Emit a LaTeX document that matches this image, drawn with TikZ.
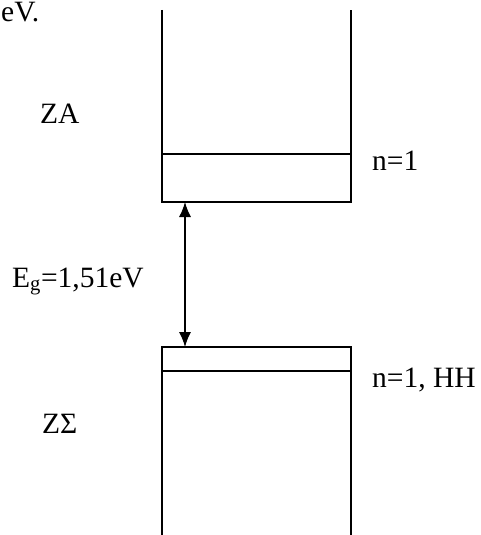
\documentclass[tikz,border=0pt]{standalone}
\usepackage{fontspec}
\setmainfont{Liberation Serif}
\usetikzlibrary{arrows.meta}

\begin{document}
\begin{tikzpicture}[x=1pt,y=-1pt,
		wall/.style={draw,line width=1.3pt},
		lvl/.style={draw,line width=1.1pt},
		lbl/.style={font=\fontsize{29.5}{34}\selectfont,inner sep=0pt,anchor=base west},
		ar/.style={{Latex[length=15pt,width=12pt]}-{Latex[length=15pt,width=12pt]},line width=1.2pt}]
		\useasboundingbox (0,0) rectangle (481,535);
		\clip (0,0) rectangle (481,535);
		% conduction band well
		\coordinate (caTL) at (162,10);
		\coordinate (caTR) at (351,10);
		\coordinate (caBL) at (162,202);
		\coordinate (caBR) at (351,202);
		\coordinate (caGap) at (185,202);
		\draw[wall] (caTL) -- (caBL) -- (caBR) -- (caTR);
		\draw[lvl] (162,154) -- (351,154);
		% valence band well
		\coordinate (vbTL) at (162,347);
		\coordinate (vbTR) at (351,347);
		\coordinate (vbBL) at (162,540);
		\coordinate (vbBR) at (351,540);
		\coordinate (vbGap) at (185,347);
		\draw[wall] (vbBL) -- (vbTL) -- (vbTR) -- (vbBR);
		\draw[lvl] (162,371) -- (351,371);
		% gap
		\draw[ar] (caGap) -- (vbGap);
		% labels
		\node[lbl] (ev)  at (1,22)   {eV.};
		\node[lbl] (za)  at (40,123) {ZA};
		\node[lbl] (n1)  at (372,170) {n=1};
		\node[lbl] (eg)  at (12,287) {E\textsubscript{g}=1,51eV};
		\node[lbl] (n1h) at (372,387) {n=1, HH};
		\node[lbl] (zs)  at (42,433) {ZΣ};
	\end{tikzpicture}
\end{document}
